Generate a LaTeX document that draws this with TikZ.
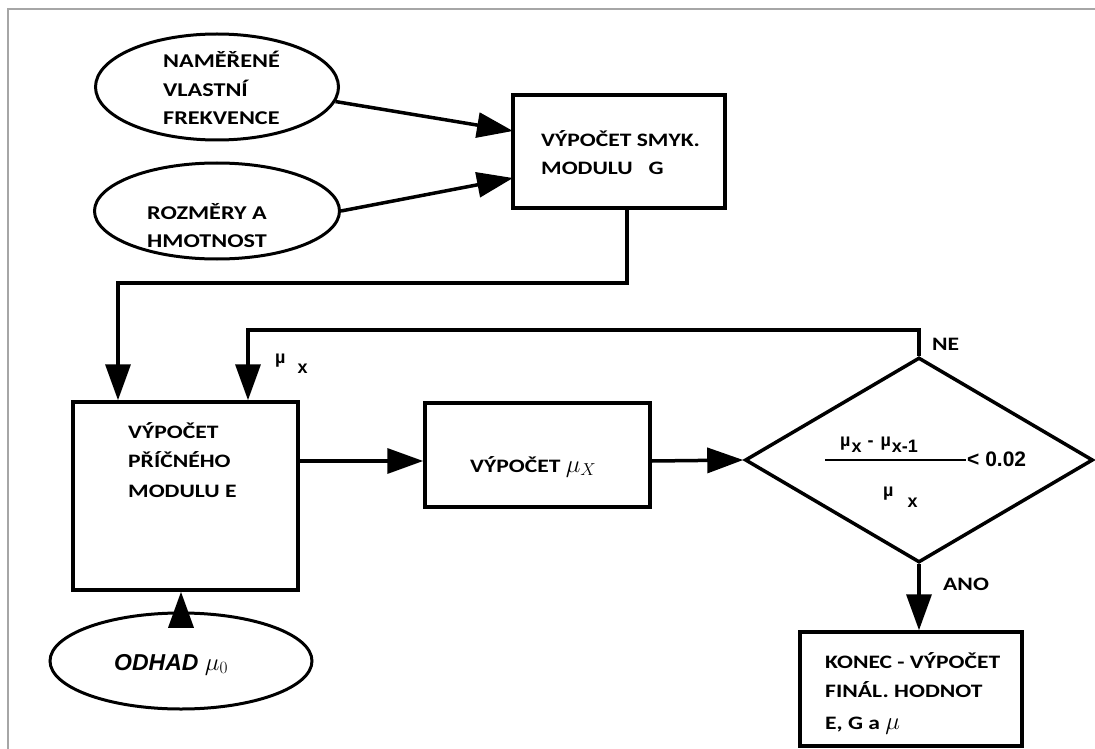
\documentclass[tikz,border=0pt]{standalone}
\usepackage{fontspec}
\setmainfont[FakeStretch=1.24]{Carlito}
\newfontfamily\arialf{Liberation Sans}
\usetikzlibrary{shapes.geometric,arrows.meta}
\begin{document}
\begin{tikzpicture}[x=1pt,y=-1pt,
  every node/.style={font=\bfseries\fontsize{19}{28.5}\selectfont, inner sep=0pt},
  ln/.style={line width=3.5pt, line join=miter},
  arr/.style={ln, -{Triangle[length=36pt,width=25pt]}},
  ell/.style={draw, ellipse, line width=3pt},
  boxs/.style={draw, ln, rectangle},
  lbl/.style={anchor=base west, align=left},
  ar/.style={font=\arialf\bfseries\fontsize{18}{20}\selectfont}]
\useasboundingbox (0,0) rectangle (1095,749);
\fill[white] (0,0) rectangle (1095,749);
\draw[gray!70, line width=2.2pt] (8,749) -- (8,9) -- (1095,9);
% ellipses
\node[ell, minimum width=243pt, minimum height=106pt] (e1) at (217,87) {};
\node[ell, minimum width=245pt, minimum height=96pt] (e2) at (217,211) {};
\node[ell, minimum width=262pt, minimum height=96pt] (e3) at (181,661) {};
\node[lbl, font=\bfseries\fontsize{19.5}{28.5}\selectfont] (t1) at (163,125) {NAMĚŘENÉ\\VLASTNÍ\\FREKVENCE};
\node[lbl, font=\bfseries\fontsize{19.5}{28}\selectfont] (t2) at (147,247) {ROZMĚRY A\\HMOTNOST};
\node[anchor=base west] (t3) at (114,670) {\arialf\bfseries\itshape\fontsize{23}{25}\selectfont ODHAD\ \normalfont\fontsize{26}{26}\selectfont$\mu_0$};
% boxes
\node[boxs, minimum width=212pt, minimum height=113pt] (g) at (619,151.5) {};
\node[lbl] (tg) at (541,175) {VÝPOČET SMYK.\\MODULU\ \ \ G};
\node[boxs, minimum width=225pt, minimum height=188pt] (e) at (185.5,496) {};
\node[lbl, font=\bfseries\fontsize{19}{29.5}\selectfont] (te) at (128,497) {VÝPOČET\\PŘÍČNÉHO\\MODULU E};
\node[boxs, minimum width=225pt, minimum height=104pt] (m) at (537.5,455) {};
\node[anchor=base west] (tm) at (470,472) {VÝPOČET \normalfont\fontsize{26}{26}\selectfont$\mu_X$};
\node[draw, diamond, line width=3.5pt, minimum width=348pt, minimum height=205pt, inner sep=0pt, aspect=1.7] (d) at (919,460) {};
\node[boxs, minimum width=222pt, minimum height=114pt] (k) at (911,689) {};
\node[lbl] (tk) at (825,697) {KONEC - VÝPOČET\\FINÁL. HODNOT};
\node[anchor=base west] (tk2) at (825,729) {E, G a \normalfont\fontsize{29}{30}\selectfont$\mu$};
% diamond formula
\draw[line width=1.2pt] (825,460) -- (966,460);
\node[anchor=base west, ar] (num) at (840,452) {\raisebox{6pt}{µ}\hspace{1pt}x\hspace{6pt}\raisebox{6pt}{-}\hspace{7pt}\raisebox{6pt}{µ}\hspace{1pt}x-1};
\node[anchor=base west, font=\arialf\bfseries\fontsize{21}{22}\selectfont] (lt) at (967,466) {< 0.02};
\node[anchor=base west, ar] (den) at (883,507) {\raisebox{11pt}{µ}\hspace{14pt}x};
% labels
\node[anchor=base west, ar] (mux) at (275,373) {\raisebox{10pt}{µ}\hspace{12pt}x};
\node[anchor=base west] (ne) at (932,350) {NE};
\node[anchor=base west] (ano) at (943,590) {ANO};
% connectors
\coordinate (gb) at (627,208);
\coordinate (c1) at (627,283);
\coordinate (c2) at (118,283);
\coordinate (ne1) at (919,330);
\coordinate (ne2) at (248,330);
\draw[arr] (e1.-7) -- (513,131);
\draw[arr] (e2.east) -- (513,178);
\draw[arr] (gb) -- (c1) -- (c2) -- (c2 |- e.north);
\draw[arr] (d.north) -- (ne1) -- (ne2) -- (ne2 |- e.north);
\draw[arr] (e.east |- 0,461) -- (m.west |- 0,461);
\draw[arr] (m.east |- 0,461) -- (d.west);
\draw[arr] (d.south) -- (k.north -| d.south);
\draw[arr] (e3.north -| 181,0) -- (e.south -| 181,0);
\end{tikzpicture}
\end{document}
